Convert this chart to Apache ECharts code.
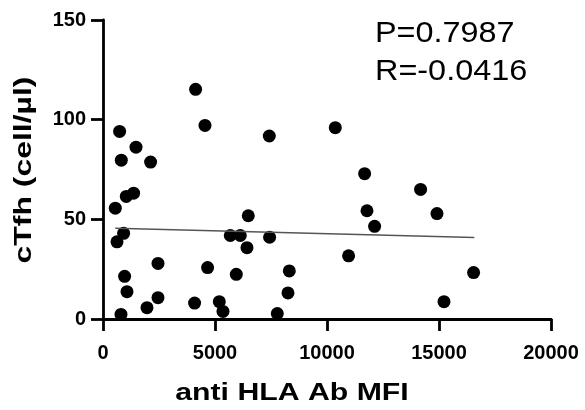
<!DOCTYPE html>
<html>
<head>
<meta charset="utf-8">
<script src="https://cdn.jsdelivr.net/npm/echarts@6/dist/echarts.min.js"></script>
<style>
  html, body { margin: 0; padding: 0; background: #fff; }
  #main { width: 585px; height: 410px; }
</style>
</head>
<body>
<div id="main"></div>
<script>
// values: anti HLA Ab MFI vs cTfh (cell/µl)
var mfi = [4134, 4553, 741, 1473, 817, 2125, 7424, 10370, 1040, 1366,
           549, 920, 625, 6486, 5683, 6129, 6428, 7438, 2455, 4670,
           5951, 8317, 965, 1071, 8258, 2455, 1964, 4089, 5192, 5357,
           803, 7781, 11679, 14178, 11785, 14910, 12125, 10964, 16544, 15223];
var ctfh = [115.2, 97.1, 94.1, 86.2, 79.7, 78.7, 91.8, 96, 61.5, 63.1,
            55.6, 43, 38.7, 51.8, 41.9, 41.9, 35.8, 41, 27.9, 25.8,
            22.4, 24.1, 21.4, 13.7, 13.1, 10.7, 5.7, 8, 8.7, 3.8,
            2.3, 2.7, 72.9, 65, 54.3, 52.9, 46.5, 31.7, 23.3, 8.7];
// regression line end points
var fitX = [549, 16575];
var fitY = [45.5, 40.9];
var statLines = ['P=0.7987', 'R=-0.0416'];

var font = '"Liberation Sans", Arial, sans-serif';
var myChart = echarts.init(document.getElementById('main'));

var points = mfi.map(function (x, i) { return [x, ctfh[i]]; });
var fit = fitX.map(function (x, i) { return [x, fitY[i]]; });

var axisCommon = {
    axisLine: { show: true, lineStyle: { color: '#000', width: 2.8 } },
    axisTick: { show: true, length: 12, lineStyle: { color: '#000', width: 2.8 } },
    splitLine: { show: false },
    axisLabel: {
        color: '#000', fontSize: 20, fontWeight: 'bold', fontFamily: font,
        formatter: function (v) { return String(v); }
    }
};

option = {
    animation: false,
    grid: { left: 103, right: 34, top: 20, bottom: 91 },
    xAxis: echarts.util.merge({
        type: 'value', min: 0, max: 20000, interval: 5000,
        axisLabel: { margin: 24 }
    }, axisCommon),
    yAxis: echarts.util.merge({
        type: 'value', min: 0, max: 150, interval: 50,
        axisLabel: { margin: 17 }
    }, axisCommon),
    series: [{
        type: 'scatter',
        data: points,
        symbolSize: 13,
        itemStyle: { color: '#000', opacity: 1 }
    }, {
        type: 'line',
        data: fit,
        symbol: 'none',
        lineStyle: { color: '#555', width: 1.5 }
    }],
    graphic: [{
        type: 'text', x: 292, y: 393, scaleX: 1.26,
        style: { text: 'anti HLA Ab MFI', font: 'bold 24px ' + font, fill: '#000', align: 'center', verticalAlign: 'middle' }
    }, {
        type: 'text', x: 24, y: 170, rotation: Math.PI / 2, scaleX: 1.33,
        style: { text: 'cTfh (cell/µl)', font: 'bold 24px ' + font, fill: '#000', align: 'center', verticalAlign: 'middle' }
    }, {
        type: 'text', x: 375, y: 34, scaleX: 1.08,
        style: { text: statLines[0], font: '30px ' + font, fill: '#000', align: 'left', verticalAlign: 'middle' }
    }, {
        type: 'text', x: 375, y: 72, scaleX: 1.08,
        style: { text: statLines[1], font: '30px ' + font, fill: '#000', align: 'left', verticalAlign: 'middle' }
    }]
};

myChart.setOption(option, true);
</script>
</body>
</html>
